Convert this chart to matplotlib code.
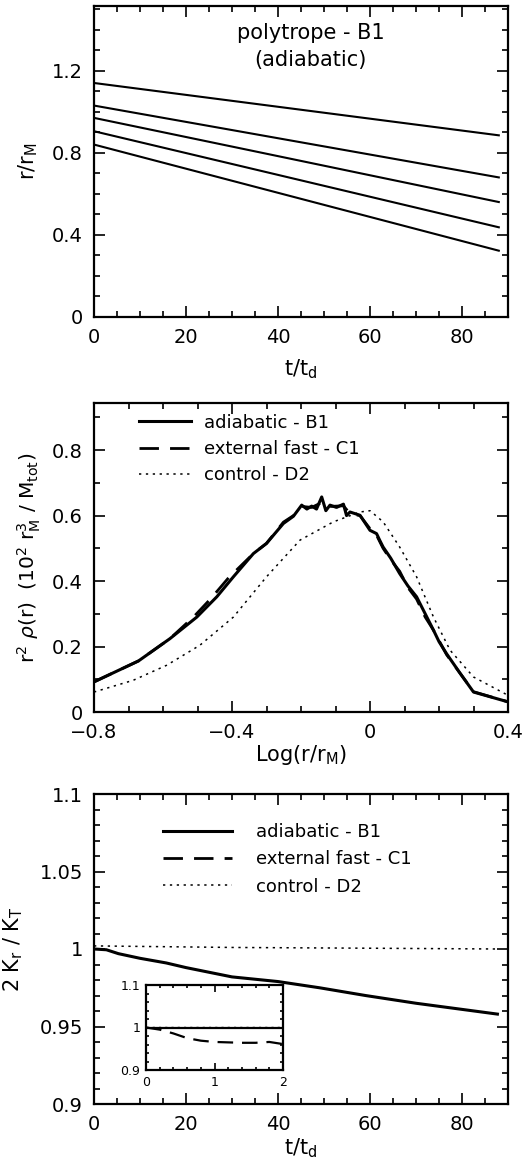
import numpy as np
import matplotlib
matplotlib.use("Agg")
import matplotlib.pyplot as plt
from matplotlib.ticker import MultipleLocator, FuncFormatter

plt.rcParams["font.family"] = ["DejaVu Sans"]
plt.rcParams["mathtext.fontset"] = "dejavusans"

###################
# data (read off) #
###################
# panel 1: shell radii vs time, polytrope B1
t_shell = [0, 88]
r_shells = [[1.14, 0.885], [1.03, 0.68], [0.97, 0.56], [0.905, 0.437], [0.84, 0.323]]

# panel 2: r^2 rho(r) profiles
logr_b1 = [-0.8, -0.671, -0.58, -0.502, -0.444, -0.396, -0.338, -0.3, -0.251, -0.222, -0.198,
           -0.183, -0.169, -0.155, -0.14, -0.128, -0.116, -0.097, -0.077, -0.068, -0.058, -0.029,
           0.0, 0.019, 0.028, 0.038, 0.06, 0.086, 0.11, 0.135, 0.16, 0.184, 0.2, 0.222, 0.26, 0.3, 0.4]
rho_b1 = [0.092, 0.156, 0.224, 0.29, 0.352, 0.413, 0.484, 0.515, 0.576, 0.598, 0.632,
          0.62, 0.629, 0.62, 0.657, 0.615, 0.632, 0.625, 0.635, 0.6, 0.611, 0.601,
          0.555, 0.545, 0.525, 0.504, 0.47, 0.423, 0.385, 0.352, 0.3, 0.25, 0.215, 0.178, 0.12, 0.061, 0.031]
logr_c1 = [-0.8, -0.671, -0.58, -0.51, -0.46, -0.41, -0.338, -0.3, -0.251, -0.222, -0.198,
           -0.169, -0.14, -0.116, -0.077, -0.058, -0.029, 0.0, 0.019, 0.038, 0.06, 0.086,
           0.11, 0.135, 0.16, 0.184, 0.222, 0.3, 0.4]
rho_c1 = [0.092, 0.156, 0.224, 0.292, 0.348, 0.41, 0.484, 0.515, 0.58, 0.6, 0.628,
          0.625, 0.64, 0.628, 0.63, 0.606, 0.6, 0.56, 0.54, 0.5, 0.465, 0.43,
          0.38, 0.345, 0.29, 0.25, 0.175, 0.062, 0.031]
logr_d2 = [-0.8, -0.686, -0.589, -0.493, -0.396, -0.3, -0.203, -0.106, -0.029, 0.0,
           0.038, 0.086, 0.135, 0.184, 0.232, 0.3, 0.4]
rho_d2 = [0.061, 0.097, 0.143, 0.204, 0.29, 0.413, 0.525, 0.581, 0.611, 0.615,
          0.581, 0.504, 0.413, 0.29, 0.189, 0.107, 0.051]

# panel 3: 2 K_r / K_T vs time
t_b1 = [0, 2.7, 5.3, 10, 15.7, 20, 25, 30, 40, 49, 59, 70, 87.7]
k_b1 = [1.0, 0.9995, 0.997, 0.994, 0.991, 0.988, 0.985, 0.982, 0.979, 0.975, 0.970, 0.965, 0.958]
t_d2 = [0, 30, 60, 88]
k_d2 = [1.002, 1.001, 1.0005, 1.0]

# inset: first 2 t_d
t_in = [0, 0.2, 0.4, 0.6, 0.8, 1.0, 1.2, 1.4, 1.6, 1.8, 2.0]
k_in_b1 = [1.0] * 11
k_in_c1 = [1.0, 0.995, 0.986, 0.975, 0.969, 0.966, 0.965, 0.964, 0.964, 0.966, 0.961]
k_in_d2 = [1.001] * 11

labels = ["adiabatic - B1", "external fast - C1", "control - D2"]

W, H = 531, 1162
fig = plt.figure(figsize=(W / 100, H / 100), dpi=100)


def ax_at(x0, x1, y0, y1):
    # pixel box -> figure fraction
    return fig.add_axes([x0 / W, 1 - y1 / H, (x1 - x0) / W, (y1 - y0) / H])


def style(ax, fs=14, pad=8, maj=8, mnr=4):
    for s in ax.spines.values():
        s.set_linewidth(1.6)
    ax.tick_params(which="both", direction="in", top=True, right=True, width=1.2,
                   labelsize=fs, pad=pad)
    ax.tick_params(which="major", length=maj)
    ax.tick_params(which="minor", length=mnr)


fmt = FuncFormatter(lambda v, p: f"{v:g}".replace("-", "\u2212"))
dash = (0, (7, 4))
dot = (0, (1.5, 3))

# ---- panel 1
ax1 = ax_at(94, 508, 6, 317)
for r in r_shells:
    ax1.plot(t_shell, r, color="k", lw=1.5)
ax1.set_xlim(0, 90)
ax1.set_ylim(0, 1.515)
ax1.xaxis.set_major_locator(MultipleLocator(20))
ax1.xaxis.set_minor_locator(MultipleLocator(5))
ax1.yaxis.set_major_locator(MultipleLocator(0.4))
ax1.yaxis.set_minor_locator(MultipleLocator(0.1))
ax1.xaxis.set_major_formatter(fmt)
ax1.yaxis.set_major_formatter(fmt)
style(ax1)
ax1.text(0.524, 0.913, "polytrope - B1", transform=ax1.transAxes, ha="center", va="center", fontsize=15)
ax1.text(0.524, 0.826, "(adiabatic)", transform=ax1.transAxes, ha="center", va="center", fontsize=15)
ax1.set_xlabel(r"t/t$_{\rm d}$", fontsize=15)
ax1.set_ylabel(r"r/r$_{\rm M}$", fontsize=15)
ax1.xaxis.set_label_coords(0.5, -0.129)
ax1.yaxis.set_label_coords(-0.130, 0.5)

# ---- panel 2
ax2 = ax_at(94, 508, 403, 712)
ax2.plot(logr_b1, rho_b1, color="k", lw=2.2, label=labels[0])
ax2.plot(logr_c1, rho_c1, color="k", lw=2.0, ls=dash, label=labels[1])
ax2.plot(logr_d2, rho_d2, color="k", lw=1.1, ls=dot, label=labels[2])
ax2.set_xlim(-0.8, 0.4)
ax2.set_ylim(0, 0.944)
ax2.xaxis.set_major_locator(MultipleLocator(0.4))
ax2.xaxis.set_minor_locator(MultipleLocator(0.1))
ax2.yaxis.set_major_locator(MultipleLocator(0.2))
ax2.yaxis.set_minor_locator(MultipleLocator(0.1))
ax2.xaxis.set_major_formatter(fmt)
ax2.yaxis.set_major_formatter(fmt)
style(ax2)
ax2.legend(loc="upper left", bbox_to_anchor=(0.109, 0.965), frameon=False, fontsize=13,
           handlelength=2.9, handletextpad=0.72, labelspacing=0.45, borderpad=0, borderaxespad=0)
ax2.set_xlabel(r"Log(r/r$_{\rm M}$)", fontsize=15)
ax2.set_ylabel(r"r$^2$ $\rho$(r)  (10$^2$ r$_{\rm M}^3$ / M$_{\rm tot}$)", fontsize=14.5)
ax2.xaxis.set_label_coords(0.5, -0.100)
ax2.yaxis.set_label_coords(-0.123, 0.5)

# ---- panel 3
ax3 = ax_at(94, 508, 794, 1104)
ax3.plot(t_b1, k_b1, color="k", lw=2.2, label=labels[0])
ax3.plot([], [], color="k", lw=2.0, ls=dash, label=labels[1])
ax3.plot(t_d2, k_d2, color="k", lw=1.1, ls=dot, label=labels[2])
ax3.set_xlim(0, 90)
ax3.set_ylim(0.9, 1.1)
ax3.xaxis.set_major_locator(MultipleLocator(20))
ax3.xaxis.set_minor_locator(MultipleLocator(5))
ax3.yaxis.set_major_locator(MultipleLocator(0.05))
ax3.yaxis.set_minor_locator(MultipleLocator(0.01))
ax3.xaxis.set_major_formatter(fmt)
ax3.yaxis.set_major_formatter(fmt)
style(ax3)
ax3.legend(loc="upper left", bbox_to_anchor=(0.167, 0.905), frameon=False, fontsize=13,
           handlelength=3.8, handletextpad=1.33, labelspacing=0.5, borderpad=0, borderaxespad=0)
ax3.set_xlabel(r"t/t$_{\rm d}$", fontsize=15)
ax3.set_ylabel(r"2 K$_{\rm r}$ / K$_{\rm T}$", fontsize=15)
ax3.xaxis.set_label_coords(0.5, -0.106)
ax3.yaxis.set_label_coords(-0.167, 0.5)

# ---- inset
ax4 = ax_at(146, 283, 985, 1070)
ax4.plot(t_in, k_in_b1, color="k", lw=1.6)
ax4.plot(t_in, k_in_c1, color="k", lw=1.6, ls=dash)
ax4.plot(t_in, k_in_d2, color="k", lw=1.0, ls=dot)
ax4.set_xlim(0, 2)
ax4.set_ylim(0.9, 1.1)
ax4.xaxis.set_major_locator(MultipleLocator(1))
ax4.xaxis.set_minor_locator(MultipleLocator(0.2))
ax4.yaxis.set_major_locator(MultipleLocator(0.1))
ax4.yaxis.set_minor_locator(MultipleLocator(0.02))
ax4.xaxis.set_major_formatter(fmt)
ax4.yaxis.set_major_formatter(fmt)
style(ax4, fs=9, pad=4, maj=5, mnr=2.5)

fig.savefig("out.png", dpi=100)
